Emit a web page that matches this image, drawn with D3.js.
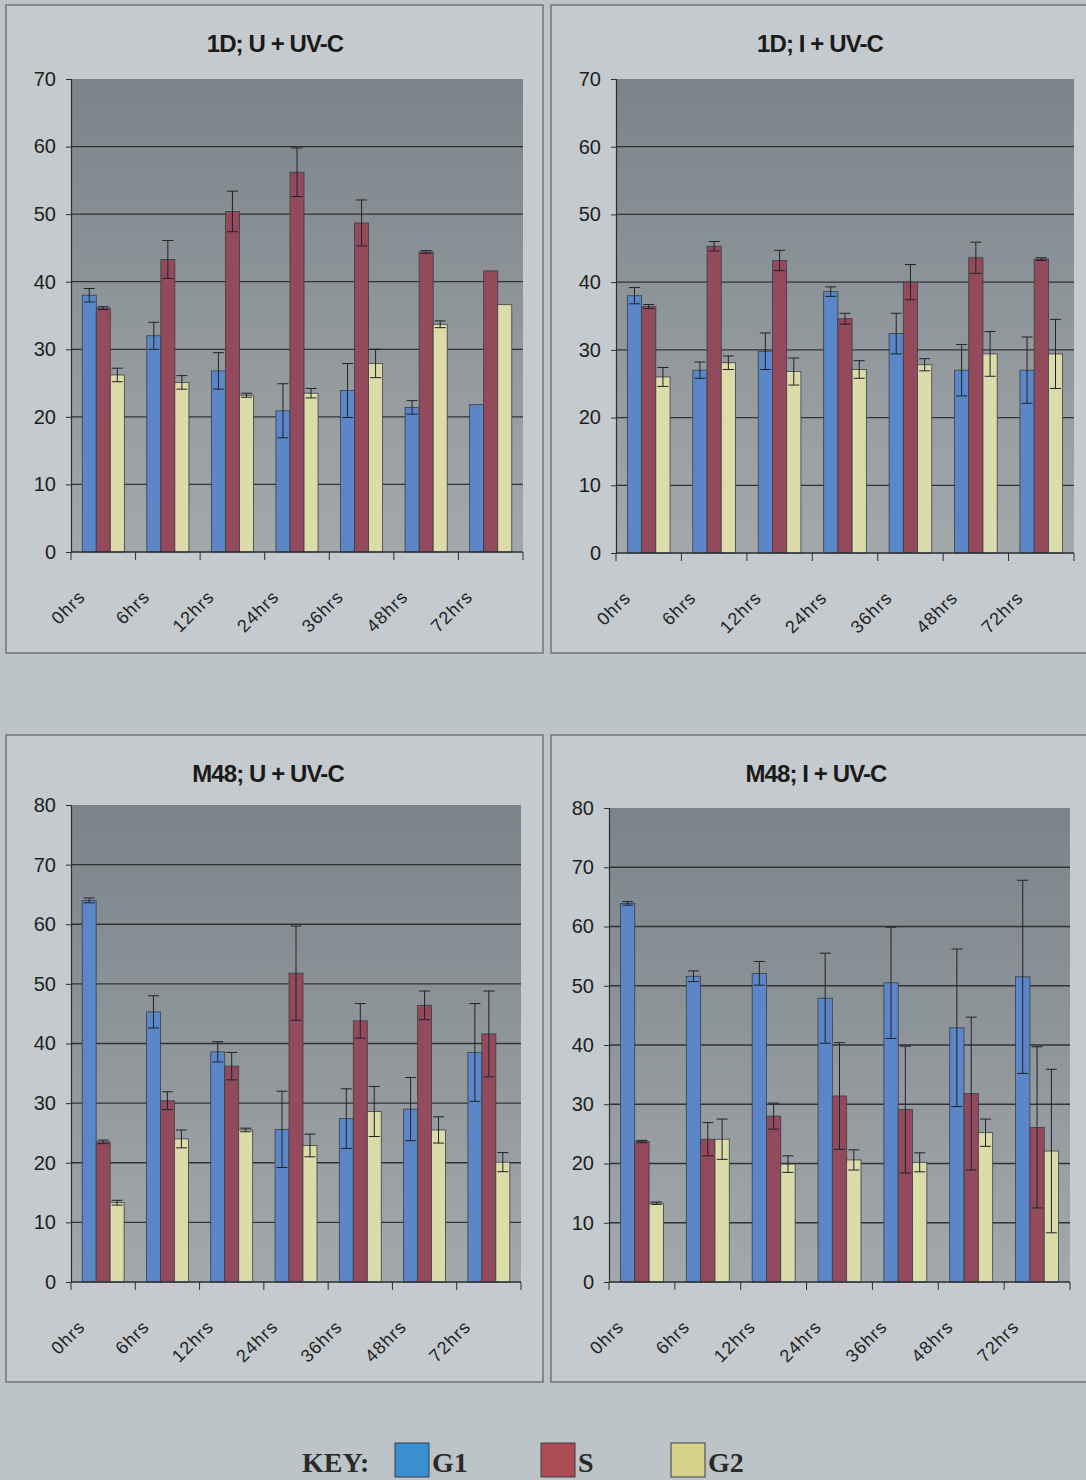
<!doctype html>
<html lang="en">
  <head>
    <meta charset="utf-8">
    <title>Cell cycle distribution after UV-C</title>
    <style>
      body { margin: 0; background: #bdc4c7; }
      svg { display: block; }
      .title { font-family: "Liberation Sans", Arial, sans-serif; font-weight: bold; font-size: 24px; letter-spacing: -0.9px; fill: #1a1a1a; }
      .ytick { font-family: "Liberation Sans", Arial, sans-serif; font-size: 20px; fill: #1e1e1e; }
      .xtick { font-family: "Liberation Sans", Arial, sans-serif; font-size: 18px; letter-spacing: 1px; fill: #222; }
      .key { font-family: "Liberation Serif", "Times New Roman", serif; font-weight: bold; font-size: 28px; fill: #2a2a2a; }
    </style>
  </head>
  <body>
    <script src="https://d3js.org/d3.v7.min.js"></script>
    <script>
    // time points and series
    var times = ["0hrs", "6hrs", "12hrs", "24hrs", "36hrs", "48hrs", "72hrs"];
    var series = ["G1", "S", "G2"];

    // 1D; U + UV-C
    var g1_1dU = [38.0, 32.0, 26.8, 20.9, 23.9, 21.4, 21.8];
    var s_1dU  = [36.1, 43.3, 50.4, 56.2, 48.7, 44.4, 41.6];
    var g2_1dU = [26.2, 25.1, 23.2, 23.5, 27.9, 33.7, 36.6];
    var g1_1dU_err = [1.0, 2.0, 2.7, 4.0, 4.0, 1.0, 0];
    var s_1dU_err  = [0.2, 2.8, 3.0, 3.6, 3.4, 0.2, 0];
    var g2_1dU_err = [1.0, 1.0, 0.3, 0.7, 2.1, 0.5, 0];

    // 1D; I + UV-C
    var g1_1dI = [38.0, 27.0, 29.8, 38.6, 32.4, 27.0, 27.0];
    var s_1dI  = [36.4, 45.3, 43.2, 34.6, 40.0, 43.6, 43.4];
    var g2_1dI = [26.0, 28.1, 26.8, 27.1, 27.8, 29.4, 29.4];
    var g1_1dI_err = [1.2, 1.2, 2.7, 0.7, 3.0, 3.8, 4.9];
    var s_1dI_err  = [0.3, 0.7, 1.5, 0.8, 2.6, 2.3, 0.2];
    var g2_1dI_err = [1.4, 1.0, 2.0, 1.3, 0.9, 3.3, 5.1];

    // M48; U + UV-C
    var g1_m48U = [64.0, 45.3, 38.6, 25.6, 27.4, 29.0, 38.5];
    var s_m48U  = [23.5, 30.4, 36.2, 51.8, 43.8, 46.4, 41.6];
    var g2_m48U = [13.3, 24.0, 25.5, 22.9, 28.6, 25.5, 20.1];
    var g1_m48U_err = [0.4, 2.7, 1.7, 6.4, 5.0, 5.3, 8.2];
    var s_m48U_err  = [0.3, 1.5, 2.3, 7.9, 2.9, 2.4, 7.2];
    var g2_m48U_err = [0.4, 1.5, 0.3, 1.9, 4.2, 2.2, 1.6];

    // M48; I + UV-C
    var g1_m48I = [63.9, 51.6, 52.1, 47.9, 50.5, 42.9, 51.5];
    var s_m48I  = [23.7, 24.1, 28.0, 31.4, 29.1, 31.8, 26.1];
    var g2_m48I = [13.3, 24.1, 19.9, 20.6, 20.2, 25.2, 22.1];
    var g1_m48I_err = [0.3, 0.9, 2.0, 7.6, 9.4, 13.3, 16.3];
    var s_m48I_err  = [0.2, 2.8, 2.2, 9.0, 10.7, 12.9, 13.6];
    var g2_m48I_err = [0.2, 3.4, 1.4, 1.7, 1.6, 2.3, 13.8];

    var color = d3.scaleOrdinal().domain(series).range(["#5b87c8", "#934a5c", "#dcdcab"]);
    var keyColor = d3.scaleOrdinal().domain(series).range(["#3a8fd1", "#ad4c55", "#d5d38c"]);

    var panels = [
      {title: "1D; U + UV-C", box: [6, 5, 543, 653], plot: [71, 79, 523, 552], titleX: 275, ymax: 70,
       vals: [g1_1dU, s_1dU, g2_1dU], errs: [g1_1dU_err, s_1dU_err, g2_1dU_err]},
      {title: "1D; I + UV-C", box: [551, 5, 1100, 653], plot: [616, 79, 1074, 553], titleX: 820, ymax: 70,
       vals: [g1_1dI, s_1dI, g2_1dI], errs: [g1_1dI_err, s_1dI_err, g2_1dI_err]},
      {title: "M48; U + UV-C", box: [6, 735, 543, 1382], plot: [71, 805, 521, 1282], titleX: 268, ymax: 80,
       vals: [g1_m48U, s_m48U, g2_m48U], errs: [g1_m48U_err, s_m48U_err, g2_m48U_err]},
      {title: "M48; I + UV-C", box: [551, 735, 1100, 1382], plot: [609, 808, 1070, 1282], titleX: 816, ymax: 80,
       vals: [g1_m48I, s_m48I, g2_m48I], errs: [g1_m48I_err, s_m48I_err, g2_m48I_err]}
    ];

    var svg = d3.select("body").append("svg")
        .attr("width", 1086)
        .attr("height", 1480);

    var defs = svg.append("defs");
    var grad = defs.append("linearGradient")
        .attr("id", "plotbg")
        .attr("x1", 0).attr("y1", 0).attr("x2", 0).attr("y2", 1);
    grad.append("stop").attr("offset", "0%").attr("stop-color", "#7b848a");
    grad.append("stop").attr("offset", "100%").attr("stop-color", "#a3a8ab");

    panels.forEach(function(p) {
      var g = svg.append("g");

      // panel frame
      g.append("rect")
        .attr("x", p.box[0]).attr("y", p.box[1])
        .attr("width", p.box[2] - p.box[0]).attr("height", p.box[3] - p.box[1])
        .attr("fill", "#c4cacd")
        .attr("stroke", "#6f7477")
        .attr("stroke-width", 1.5);

      g.append("text")
        .attr("class", "title")
        .attr("x", p.titleX)
        .attr("y", p.box[1] + 47)
        .attr("text-anchor", "middle")
        .text(p.title);

      var x0 = d3.scaleBand().domain(times).range([p.plot[0], p.plot[2]]).padding(0);
      var x1 = d3.scaleBand().domain(series).range([0, x0.bandwidth()]).paddingInner(0).paddingOuter(0.8);
      var y = d3.scaleLinear().domain([0, p.ymax]).range([p.plot[3], p.plot[1]]);

      // plot area
      g.append("rect")
        .attr("x", p.plot[0]).attr("y", p.plot[1])
        .attr("width", p.plot[2] - p.plot[0]).attr("height", p.plot[3] - p.plot[1])
        .attr("fill", "url(#plotbg)");

      // gridlines
      g.selectAll(".grid")
        .data(d3.range(10, p.ymax, 10))
        .join("line")
        .attr("x1", p.plot[0]).attr("x2", p.plot[2])
        .attr("y1", d => y(d)).attr("y2", d => y(d))
        .attr("stroke", "#2e3336")
        .attr("stroke-width", 1.3);

      // bars
      series.forEach(function(s, si) {
        g.selectAll(".bar" + si)
          .data(times)
          .join("rect")
          .attr("x", d => x0(d) + x1(s))
          .attr("y", (d, i) => y(p.vals[si][i]))
          .attr("width", x1.bandwidth())
          .attr("height", (d, i) => y(0) - y(p.vals[si][i]))
          .attr("fill", color(s))
          .attr("stroke", "#3a3d44")
          .attr("stroke-width", 0.8);
      });

      // error bars
      series.forEach(function(s, si) {
        times.forEach(function(t, i) {
          var e = p.errs[si][i];
          if (!e) return;
          var cx = x0(t) + x1(s) + x1.bandwidth() / 2;
          var v = p.vals[si][i];
          var eb = g.append("g").attr("stroke", "#1f2226").attr("stroke-width", 1);
          eb.append("line").attr("x1", cx).attr("x2", cx).attr("y1", y(v - e)).attr("y2", y(v + e));
          eb.append("line").attr("x1", cx - 5.5).attr("x2", cx + 5.5).attr("y1", y(v + e)).attr("y2", y(v + e));
          eb.append("line").attr("x1", cx - 5.5).attr("x2", cx + 5.5).attr("y1", y(v - e)).attr("y2", y(v - e));
        });
      });

      // y axis
      var yAxis = d3.axisLeft(y).tickValues(d3.range(0, p.ymax + 1, 10)).tickSize(5).tickPadding(10);
      var ya = g.append("g")
        .attr("transform", "translate(" + p.plot[0] + ",0)")
        .call(yAxis);
      ya.select(".domain").attr("stroke", "#2b2f33").attr("stroke-width", 1.2);
      ya.selectAll(".tick line").attr("stroke", "#2b2f33");
      ya.selectAll(".tick text").attr("class", "ytick").attr("font-size", null).attr("font-family", null).attr("fill", null);

      // x axis baseline and boundary ticks
      g.append("line")
        .attr("x1", p.plot[0]).attr("x2", p.plot[2])
        .attr("y1", p.plot[3]).attr("y2", p.plot[3])
        .attr("stroke", "#2b2f33").attr("stroke-width", 1.3);
      var bounds = times.map(t => x0(t)).concat([p.plot[2]]);
      g.selectAll(".xt")
        .data(bounds)
        .join("line")
        .attr("x1", d => d).attr("x2", d => d)
        .attr("y1", p.plot[3]).attr("y2", p.plot[3] + 8)
        .attr("stroke", "#2b2f33");

      g.selectAll(".xlab")
        .data(times)
        .join("text")
        .attr("class", "xtick")
        .attr("text-anchor", "end")
        .attr("transform", d => "translate(" + (x0(d) + x0.bandwidth() / 2 - 17) + "," + (p.plot[3] + 46) + ") rotate(-45)")
        .text(d => d);
    });

    // key
    var key = svg.append("g");
    key.append("text").attr("class", "key").attr("x", 302).attr("y", 1472).text("KEY:");
    var keyX = [395, 541, 671];
    series.forEach(function(s, i) {
      key.append("rect")
        .attr("x", keyX[i]).attr("y", 1443)
        .attr("width", 34).attr("height", 34)
        .attr("fill", keyColor(s))
        .attr("stroke", "#3b3f44")
        .attr("stroke-width", 1);
      key.append("text").attr("class", "key").attr("x", keyX[i] + 37).attr("y", 1472).text(s);
    });
    </script>
  </body>
</html>
